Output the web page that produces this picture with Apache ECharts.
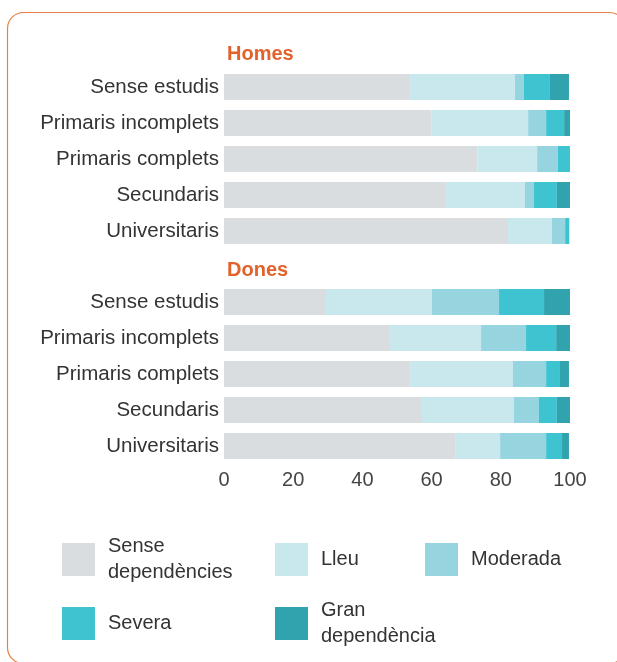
<!DOCTYPE html>
<html>
<head>
<meta charset="utf-8">
<script src="https://cdn.jsdelivr.net/npm/echarts@6/dist/echarts.min.js"></script>
<style>
  html, body { margin: 0; padding: 0; background: #fff; }
  #chart { width: 617px; height: 662px; }
</style>
</head>
<body>
<div id="chart"></div>
<script>
  // nivell d'estudis
  const categories = ['Sense estudis', 'Primaris incomplets', 'Primaris complets', 'Secundaris', 'Universitaris']
  const seriesNames = ['Sense dependències', 'Lleu', 'Moderada', 'Severa', 'Gran dependència']
  const legendLabels = ['Sense\ndependències', 'Lleu', 'Moderada', 'Severa', 'Gran\ndependència']
  const colors = ['#d9dde0', '#c8e8ee', '#96d5df', '#3ec3d0', '#31a3ae']
  const xTicks = [0, 20, 40, 60, 80, 100]

  // Homes (%)
  const homesSense = [53.8, 59.9, 73.2, 64.2, 82.1]
  const homesLleu = [30.3, 28.0, 17.3, 22.8, 12.7]
  const homesModerada = [2.6, 5.2, 6.0, 2.6, 3.8]
  const homesSevera = [7.5, 5.2, 3.5, 6.6, 1.2]
  const homesGran = [5.5, 1.7, 0, 3.8, 0]

  // Dones (%)
  const donesSense = [29.2, 48.0, 53.8, 57.2, 66.8]
  const donesLleu = [30.9, 26.3, 29.7, 26.6, 13.0]
  const donesModerada = [19.4, 13.0, 9.6, 7.2, 13.3]
  const donesSevera = [13.0, 8.7, 4.0, 5.2, 4.6]
  const donesGran = [7.5, 4.0, 2.6, 3.8, 2.0]

  const homes = [homesSense, homesLleu, homesModerada, homesSevera, homesGran]
  const dones = [donesSense, donesLleu, donesModerada, donesSevera, donesGran]

  const font = 'Liberation Sans, Helvetica, Arial, sans-serif'
  const textColor = '#333'

  function xAxis(idx, show) {
    return {
      type: 'value', gridIndex: idx, min: 0, max: 100, interval: 20,
      axisLine: { show: false }, axisTick: { show: false }, splitLine: { show: false },
      axisLabel: {
        show: show, fontSize: 20, color: '#444', fontFamily: font, margin: 6,
        formatter: v => xTicks.indexOf(v) >= 0 ? String(v) : ''
      }
    }
  }
  function yAxis(idx) {
    return {
      type: 'category', gridIndex: idx, data: categories, inverse: true,
      axisLine: { show: false }, axisTick: { show: false },
      axisLabel: { fontSize: 20.5, color: textColor, fontFamily: font, margin: 5 }
    }
  }

  let series = []
  ;[homes, dones].forEach((group, g) => {
    group.forEach((vals, i) => {
      series.push({
        name: seriesNames[i], type: 'bar', stack: g === 0 ? 'homes' : 'dones',
        xAxisIndex: g, yAxisIndex: g, barWidth: 26,
        itemStyle: { color: colors[i] },
        data: vals
      })
    })
  })

  // posicions de la llegenda (les de dues línies es desplacen amunt)
  const legendPos = [[57, 528.5], [270, 538], [420, 538], [57, 602], [270, 592.5]]
  const legends = seriesNames.map((n, i) => ({
    data: [n], left: legendPos[i][0], top: legendPos[i][1],
    icon: 'rect', itemWidth: 33, itemHeight: 33, selectedMode: false,
    formatter: () => legendLabels[i],
    textStyle: { fontSize: 20, color: textColor, fontFamily: font, lineHeight: 26, padding: [0, 0, 0, 8] }
  }))

  let myChart = echarts.init(document.getElementById('chart'))
  let option = {
    animation: false,
    title: [
      { text: 'Homes', left: 222, top: 39, textStyle: { fontSize: 20, fontWeight: 'bold', color: '#e2622b', fontFamily: font } },
      { text: 'Dones', left: 222, top: 255, textStyle: { fontSize: 20, fontWeight: 'bold', color: '#e2622b', fontFamily: font } }
    ],
    graphic: [{
      type: 'rect', shape: { x: 7.5, y: 12.5, width: 618, height: 651, r: 16 },
      style: { fill: 'none', stroke: '#e8804a', lineWidth: 1.2 }, silent: true
    }],
    legend: legends,
    grid: [
      { left: 224, width: 346, top: 69, height: 180 },
      { left: 224, width: 346, top: 284, height: 180 }
    ],
    xAxis: [xAxis(0, false), xAxis(1, true)],
    yAxis: [yAxis(0), yAxis(1)],
    series: series
  }
  myChart.setOption(option)
</script>
</body>
</html>
